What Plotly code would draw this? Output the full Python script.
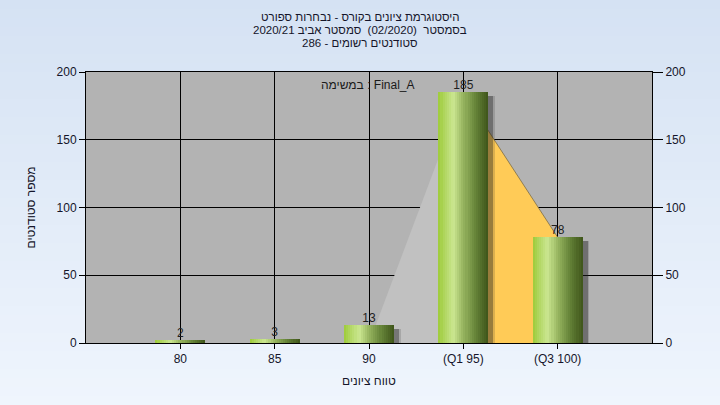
import plotly.graph_objects as go

# ---------------- data ----------------
categories = ["80", "85", "90", "(Q1 95)", "(Q3 100)"]
student_counts = [2, 3, 13, 185, 78]
area_values = [0, 0, 0, 185, 78]
area_segment_colors = ["#c1c1c1", "#c1c1c1", "#c1c1c1", "#ffcb57"]
y_ticks = [0, 50, 100, 150, 200]

title_lines = [
    "היסטוגרמת ציונים בקורס - נבחרות ספורט",
    "בסמסטר  (02/2020)  סמסטר אביב 2020/21",
    "סטודנטים רשומים - 286",
]
task_label = "במשימה : Final_A"
x_title = "טווח ציונים"
y_title = "מספר סטודנטים"

# ---------------- layout constants ----------------
W, H = 720, 405
ML, MR, MT, MB = 86, 68, 72, 62
PW, PH = W - ML - MR, H - MT - MB
XMIN, XMAX = -1, len(categories)
YMIN, YMAX = 0, 200
px_x = (XMAX - XMIN) / PW      # x units per pixel
px_y = (YMAX - YMIN) / PH      # y units per pixel
BAR_W = 50 * px_x
FONT = "Liberation Sans, DejaVu Sans, Arial, sans-serif"
TXT = "#15152a"

xs = list(range(len(categories)))

fig = go.Figure()

def lerp(c1, c2, t):
    return "rgb(%d,%d,%d)" % tuple(round(a + (b - a) * t) for a, b in zip(c1, c2))

# background gradient bands (page) + plot area
top_c, bot_c = (213, 226, 243), (239, 245, 253)
NB = 45
shapes = []
y_top = 1 + MT / PH
y_bot = -MB / PH
for i in range(NB):
    t0 = i / NB
    t1 = (i + 1) / NB
    shapes.append(dict(type="rect", xref="paper", yref="paper", layer="below",
                       x0=-ML / PW - 0.01, x1=1 + MR / PW + 0.01,
                       y0=y_top - (y_top - y_bot) * t1 - 0.002,
                       y1=y_top - (y_top - y_bot) * t0,
                       fillcolor=lerp(top_c, bot_c, (t0 + t1) / 2), line_width=0))
shapes.append(dict(type="rect", xref="paper", yref="paper", layer="below",
                   x0=0, x1=1, y0=0, y1=1, fillcolor="#b3b3b3", line_width=0))

# area segments (main y axis, drawn beneath the overlay subplot with bars)
for i in range(len(area_values) - 1):
    if area_values[i] == 0 and area_values[i + 1] == 0:
        continue
    col = area_segment_colors[i]
    is_yellow = col == "#ffcb57"
    fig.add_trace(go.Scatter(
        x=[xs[i], xs[i + 1]], y=[area_values[i], area_values[i + 1]],
        mode="lines", fill="tozeroy", fillcolor=col,
        line=dict(color="#7d6d45" if is_yellow else col, width=0.8 if is_yellow else 0),
        hoverinfo="skip", showlegend=False, yaxis="y"))

# bar shadows (overlay axis y2)
sh_dx = 5 * px_x
for alpha, extra in [(0.16, 3.0), (0.35, 0.0)]:
    fig.add_trace(go.Bar(
        x=xs, y=[v for v in student_counts],
        base=-4 * px_y, width=BAR_W + extra * px_x,
        offset=-BAR_W / 2 + sh_dx - extra * px_x / 2,
        marker=dict(color="rgba(30,30,30,%.2f)" % alpha, line_width=0),
        cliponaxis=False, hoverinfo="skip", showlegend=False, yaxis="y2"))

# gradient bars as thin slices
stops = [(0.0, (158, 203, 56)), (0.12, (176, 214, 96)), (0.3, (203, 231, 145)),
         (0.5, (150, 180, 95)), (0.75, (100, 130, 55)), (1.0, (62, 84, 26))]

def grad(t):
    for (t0, c0), (t1, c1) in zip(stops[:-1], stops[1:]):
        if t0 <= t <= t1:
            return lerp(c0, c1, (t - t0) / (t1 - t0))
    return lerp(stops[-1][1], stops[-1][1], 0)

NS = 24
sw = BAR_W / NS
for k in range(NS):
    fig.add_trace(go.Bar(
        x=xs, y=student_counts, width=sw * 1.6 if k < NS - 1 else sw,
        offset=-BAR_W / 2 + k * sw,
        marker=dict(color=grad((k + 0.5) / NS), line_width=0),
        hoverinfo="skip", showlegend=False, yaxis="y2"))

# value labels
fig.add_trace(go.Scatter(
    x=xs, y=student_counts, mode="text", text=[str(v) for v in student_counts],
    textposition="top center", textfont=dict(family=FONT, size=12, color="#1e1e1e"),
    cliponaxis=False, hoverinfo="skip", showlegend=False, yaxis="y2"))

annotations = []
for i, line in enumerate(title_lines):
    annotations.append(dict(text=line, xref="paper", yref="paper",
                            x=(360 - ML) / PW, y=1 + (MT - (17 + 13 * i)) / PH,
                            xanchor="center", yanchor="middle", showarrow=False,
                            font=dict(family=FONT, size=11.5, color=TXT)))
annotations.append(dict(text=task_label, xref="paper", yref="paper",
                        x=(368 - ML) / PW, y=1 - (85 - MT) / PH,
                        xanchor="center", yanchor="middle", showarrow=False,
                        font=dict(family=FONT, size=12, color="#1a1a1a")))
annotations.append(dict(text=x_title, xref="paper", yref="paper",
                        x=0.5, y=-(381 - (MT + PH)) / PH,
                        xanchor="center", yanchor="middle", showarrow=False,
                        font=dict(family=FONT, size=12, color=TXT)))
annotations.append(dict(text=y_title, xref="paper", yref="paper",
                        x=-(ML - 30) / PW, y=0.5, textangle=-90,
                        xanchor="center", yanchor="middle", showarrow=False,
                        font=dict(family=FONT, size=12, color=TXT)))

axis_common = dict(showline=True, linecolor="black", linewidth=1,
                   ticks="outside", tickcolor="black", tickwidth=1,
                   tickfont=dict(family=FONT, size=12, color=TXT))

fig.update_layout(
    width=W, height=H, autosize=False,
    margin=dict(l=ML, r=MR, t=MT, b=MB, pad=0),
    paper_bgcolor="#e4ecf7", plot_bgcolor="#b3b3b3",
    barmode="overlay", bargap=0, showlegend=False,
    shapes=shapes, annotations=annotations,
    xaxis=dict(range=[XMIN, XMAX], tickvals=xs, ticktext=categories,
               showgrid=True, gridcolor="black", gridwidth=1, zeroline=False,
               mirror=True, ticklen=5, **axis_common),
    yaxis=dict(range=[YMIN, YMAX], tickvals=y_ticks, showgrid=True,
               gridcolor="black", gridwidth=1, zeroline=False, mirror=True,
               ticklen=6, **axis_common),
    yaxis2=dict(range=[YMIN, YMAX], tickvals=y_ticks, overlaying="y", side="right",
                showgrid=False, zeroline=False, ticklen=10, **axis_common),
)

fig.write_html("out.html", config={"displayModeBar": False},
               post_script="document.body.style.margin='0';")
